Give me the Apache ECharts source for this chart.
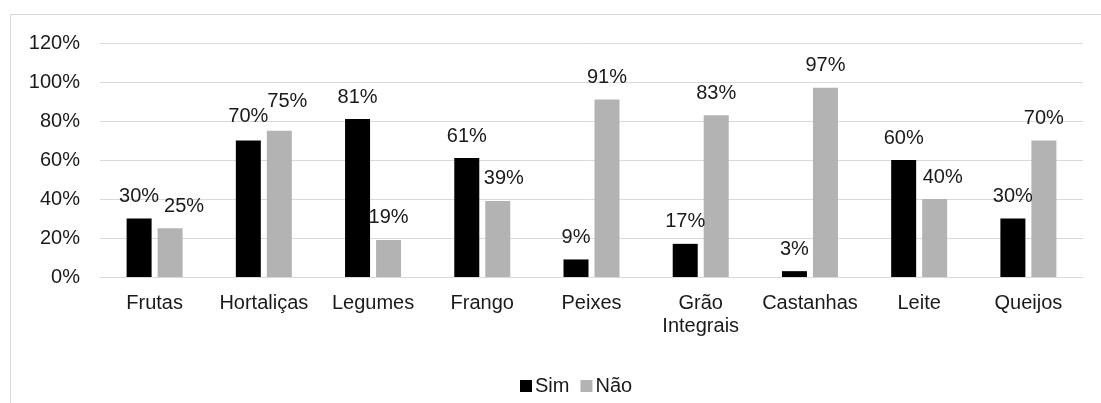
<!DOCTYPE html>
<html><head><meta charset="utf-8">
<script src="https://cdn.jsdelivr.net/npm/echarts@6/dist/echarts.min.js"></script>
<style>html,body{margin:0;padding:0;background:#fff}#c{width:1101px;height:403px}</style>
</head><body><div id="c"></div>
<script>
const categories = ['Frutas','Hortaliças','Legumes','Frango','Peixes','Grão\nIntegrais','Castanhas','Leite','Queijos'];
const simValues = [30,70,81,61,9,17,3,60,30];
const naoValues = [25,75,19,39,91,83,97,40,70];
const seriesNames = ['Sim','Não'];

// manual label nudges (style only), keyed by category index
const simLabelNudge = {1:[0,-2]};
const naoLabelNudge = {0:[14,0], 1:[8,-7], 3:[6,0], 7:[8,0]};

const chart = echarts.init(document.getElementById('c'));
const font = 'Liberation Sans, Arial, sans-serif';
const txt = '#1a1a1a';
const lbl = {show:true, position:'top', formatter:'{c}%', color:txt, fontSize:20, fontFamily:font, distance:12};
function withNudge(vals, nudge){
  return vals.map((v,i)=> nudge[i] ? {value:v, label:{offset:nudge[i]}} : v);
}
chart.setOption({
  animation:false,
  graphic:[{type:'rect', shape:{x:10.5,y:14.5,width:1100,height:400}, style:{fill:'none',stroke:'#d9d9d9',lineWidth:1}}],
  grid:{left:100, right:18, top:43, bottom:126},
  legend:{top:376, left:520, padding:0, itemWidth:12, itemHeight:12, itemGap:11, icon:'rect',
    textStyle:{fontSize:20, fontFamily:font, color:txt, padding:[0,0,0,-2]}},
  xAxis:{type:'category', data:categories,
    axisLine:{lineStyle:{color:'#d9d9d9', width:1}}, axisTick:{show:false},
    axisLabel:{fontSize:20, fontFamily:font, color:txt, margin:15, lineHeight:23, interval:0}},
  yAxis:{type:'value', min:0, max:120, interval:20,
    axisLabel:{formatter:'{value}%', fontSize:20, fontFamily:font, color:txt, margin:20},
    splitLine:{lineStyle:{color:'#d9d9d9', width:1}}, axisLine:{show:false}, axisTick:{show:false}},
  series:[
    {name:seriesNames[0], type:'bar', data:withNudge(simValues, simLabelNudge), barWidth:25, barGap:'24%', itemStyle:{color:'#000000'}, label:lbl},
    {name:seriesNames[1], type:'bar', data:withNudge(naoValues, naoLabelNudge), barWidth:25, itemStyle:{color:'#b3b3b3'}, label:lbl}
  ]
});
</script></body></html>
